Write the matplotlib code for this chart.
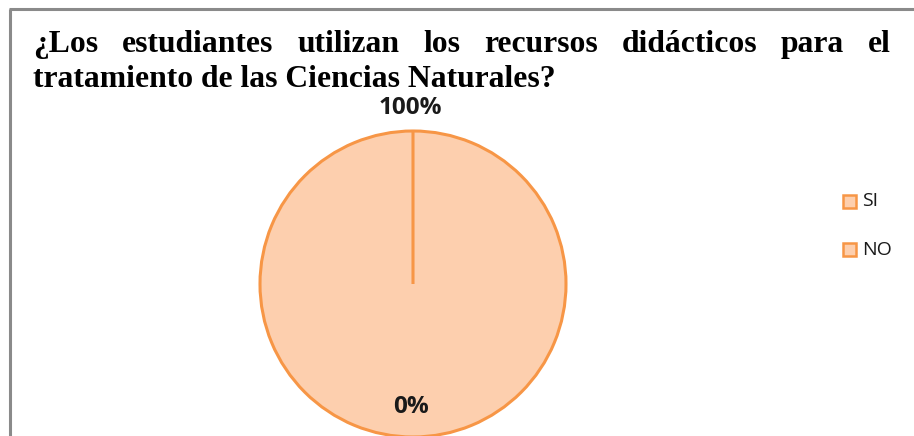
import matplotlib
matplotlib.use("Agg")
import matplotlib.pyplot as plt
from matplotlib.patches import Rectangle

# Data
categories = ["SI", "NO"]
values = [100, 0]
pct_labels = ["100%", "0%"]
title_line1 = "¿Los estudiantes utilizan los recursos didácticos para el"
title_line2 = "tratamiento de las Ciencias Naturales?"

W, H = 914, 436
fig = plt.figure(figsize=(W / 100, H / 100), dpi=100)
ax = fig.add_axes([0, 0, 1, 1])

fill = "#FDCFAE"
edge = "#F79646"

cx, cy, r = 413, H - 284, 153
ax.pie(values, colors=[fill, fill], startangle=90, counterclock=False,
       center=(cx, cy), radius=r,
       wedgeprops=dict(edgecolor=edge, linewidth=2.2), frame=True)
ax.set_xlim(0, W)
ax.set_ylim(0, H)
ax.set_aspect("auto")
ax.axis("off")

# percentage labels
lab_font = dict(fontsize=17.5, fontweight="bold", family="Open Sans", color="#1a1a1a")
ax.text(410, H - 108, pct_labels[0], ha="center", va="center", **lab_font)
ax.text(411, H - 407, pct_labels[1], ha="center", va="center", **lab_font)

# legend
for i, cat in enumerate(categories):
    y = H - (201.5 + i * 48)
    ax.add_patch(Rectangle((843, y - 6.5), 13, 13, facecolor=fill, edgecolor=edge, lw=1.8))
    ax.text(862, y, cat, ha="left", va="center", fontsize=14, family="Open Sans", color="#1a1a1a")

# border
ax.plot([10, 10], [0, H - 9], color="#8a8a8a", lw=2.2, solid_capstyle="butt")
ax.plot([9, W], [H - 9, H - 9], color="#8a8a8a", lw=2.2, solid_capstyle="butt")

# justified title
tfont = dict(fontsize=22.8, fontweight="bold", family="Liberation Serif", color="black")
fig.canvas.draw()
renderer = fig.canvas.get_renderer()
words = title_line1.split(" ")
x_left, x_right = 33, 891
texts = []
widths = []
for w in words:
    t = ax.text(0, 0, w, ha="left", va="baseline", **tfont)
    bb = t.get_window_extent(renderer=renderer)
    widths.append(bb.width)
    texts.append(t)
gap = (x_right - x_left - sum(widths)) / (len(words) - 1)
x = x_left
for t, wd in zip(texts, widths):
    t.set_position((x, H - 52))
    x += wd + gap
ax.text(x_left, H - 87, title_line2, ha="left", va="baseline", **tfont)

fig.savefig("out.png", dpi=100)
